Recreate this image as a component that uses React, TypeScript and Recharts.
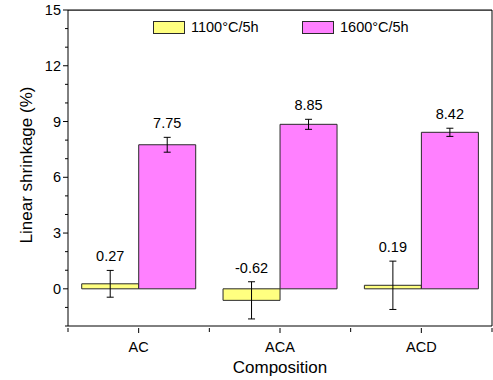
import { BarChart, Bar, XAxis, YAxis, ErrorBar, LabelList } from "recharts";

const categories = ["AC", "ACA", "ACD"];
const seriesNames = ["1100°C/5h", "1600°C/5h"];
const shrink1100 = [0.27, -0.62, 0.19];
const err1100 = [0.72, 1.0, 1.3];
const shrink1600 = [7.75, 8.85, 8.42];
const err1600 = [0.4, 0.27, 0.22];
const yTickLabels = [0, 3, 6, 9, 12, 15];
const yAllTicks = [-2, -1, 0, 1, 2, 3, 4, 5, 6, 7, 8, 9, 10, 11, 12, 13, 14, 15];

const Y_MIN = -2;
const Y_MAX = 15;
const FONT = "Arial, 'Liberation Sans', sans-serif";
const SMALL = 14.5;
const BIG = 17;
const YELLOW = "#FFFF80";
const PINK = "#FF80FF";
const EDGE = "#2a2a2a";

const data = categories.map((c, i) => ({
  name: c,
  a: shrink1100[i],
  ea: err1100[i],
  b: shrink1600[i],
  eb: err1600[i],
}));

const W = 493;
const H = 380;
const X_AXIS_H = 54;
const Y_AXIS_W = 68;
const M = { top: 10, right: 0, bottom: 0, left: 0 };
const PLOT_W = W - M.left - M.right - Y_AXIS_W - 1;
const PLOT_H = H - M.top - X_AXIS_H;
const PX_PER_UNIT = PLOT_H / (Y_MAX - Y_MIN);

function makeValueLabel(values: number[], errs: number[]) {
  return (props: any) => {
    const { x, y, width, height, index } = props;
    const v = values[index];
    const top = Math.min(y, y + height);
    const bottom = Math.max(y, y + height);
    const vy = v >= 0 ? top : bottom;
    const errTop = vy - errs[index] * PX_PER_UNIT;
    return (
      <text
        x={x + width / 2}
        y={errTop - 9}
        textAnchor="middle"
        fontSize={SMALL}
        fontFamily={FONT}
        fill="#000"
      >
        {v.toFixed(2)}
      </text>
    );
  };
}

function YTick(props: any) {
  const { x, y, payload } = props;
  const major = yTickLabels.includes(payload.value);
  const len = major ? 5 : 3;
  return (
    <g>
      <line x1={x - len} x2={x} y1={y} y2={y} stroke="#000" strokeWidth={1} />
      {/* top edge of the plot frame */}
      {payload.value === Y_MAX && (
        <rect x={x} y={y - 0.5} width={PLOT_W} height={1.2} fill="#000" />
      )}
      {major && (
        <text
          x={x - 7}
          y={y + 5}
          textAnchor="end"
          fontSize={SMALL}
          fontFamily={FONT}
          fill="#000"
        >
          {payload.value}
        </text>
      )}
    </g>
  );
}

function XTick(props: any) {
  const { x, y, payload, index } = props;
  const off = payload.offset || 0;
  return (
    <g>
      <line x1={x} x2={x} y1={y} y2={y + 5} stroke="#000" />
      <line x1={x - off} x2={x - off} y1={y} y2={y + 4} stroke="#000" />
      {index === categories.length - 1 && (
        <line x1={x + off} x2={x + off} y1={y} y2={y + 4} stroke="#000" />
      )}
      <text
        x={x}
        y={y + 24}
        textAnchor="middle"
        fontSize={SMALL}
        fontFamily={FONT}
        fill="#000"
      >
        {payload.value}
      </text>
    </g>
  );
}

function Legend() {
  const items = [
    { name: seriesNames[0], color: YELLOW, left: 153 },
    { name: seriesNames[1], color: PINK, left: 302 },
  ];
  return (
    <>
      {items.map((it) => (
        <div
          key={it.name}
          style={{
            position: "absolute",
            left: it.left,
            top: 21,
            display: "flex",
            alignItems: "center",
            fontFamily: FONT,
            fontSize: SMALL,
            color: "#000",
            lineHeight: "13px",
          }}
        >
          <span
            style={{
              display: "inline-block",
              width: 32,
              height: 13,
              background: it.color,
              border: `1px solid ${EDGE}`,
              boxSizing: "border-box",
              marginRight: 6,
            }}
          />
          <span>{it.name}</span>
        </div>
      ))}
    </>
  );
}

export default function App() {
  return (
    <div style={{ position: "absolute", left: 0, top: 0, width: W, height: H, background: "#fff" }}>
      <BarChart
        width={W}
        height={H}
        data={data}
        margin={M}
        barCategoryGap="9.7%"
        barGap={0}
      >
        <XAxis
          dataKey="name"
          xAxisId="bottom"
          height={X_AXIS_H}
          axisLine={{ stroke: "#000" }}
          tickLine={false}
          tickSize={0}
          tick={<XTick />}
          interval={0}
          label={{
            content: (p: any) => (
              <text
                x={p.viewBox.x + p.viewBox.width / 2}
                y={p.viewBox.y + 47}
                textAnchor="middle"
                fontSize={BIG}
                fontFamily={FONT}
                fill="#000"
              >
                Composition
              </text>
            ),
          }}
        />
        <YAxis
          yAxisId="left"
          width={Y_AXIS_W}
          domain={[Y_MIN, Y_MAX]}
          ticks={yAllTicks}
          interval={0}
          allowDataOverflow
          axisLine={{ stroke: "#000" }}
          tickLine={false}
          tickSize={0}
          tickMargin={0}
          tick={<YTick />}
          label={{
            content: (p: any) => {
              const cx = 26;
              const cy = p.viewBox.y + p.viewBox.height / 2 - 3;
              return (
                <text
                  x={cx}
                  y={cy}
                  transform={`rotate(-90 ${cx} ${cy})`}
                  textAnchor="middle"
                  dominantBaseline="central"
                  fontSize={BIG}
                  fontFamily={FONT}
                  fill="#000"
                >
                  Linear shrinkage (%)
                </text>
              );
            },
          }}
        />
        <YAxis
          yAxisId="right"
          orientation="right"
          width={1}
          domain={[Y_MIN, Y_MAX]}
          axisLine={{ stroke: "#000" }}
          tick={false}
          tickLine={false}
        />
        <Bar
          dataKey="a"
          xAxisId="bottom"
          yAxisId="left"
          fill={YELLOW}
          stroke={EDGE}
          strokeWidth={1}
          isAnimationActive={false}
        >
          <ErrorBar dataKey="ea" width={3.5} stroke="#000" strokeWidth={1} />
          <LabelList dataKey="a" content={makeValueLabel(shrink1100, err1100)} />
        </Bar>
        <Bar
          dataKey="b"
          xAxisId="bottom"
          yAxisId="left"
          fill={PINK}
          stroke={EDGE}
          strokeWidth={1}
          isAnimationActive={false}
        >
          <ErrorBar dataKey="eb" width={3.5} stroke="#000" strokeWidth={1} />
          <LabelList dataKey="b" content={makeValueLabel(shrink1600, err1600)} />
        </Bar>
      </BarChart>
      <Legend />
    </div>
  );
}
